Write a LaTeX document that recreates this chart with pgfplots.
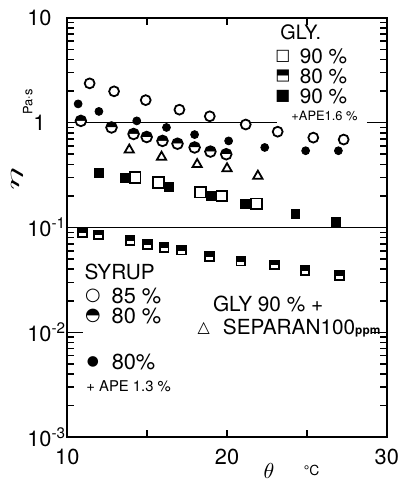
\documentclass[border=0pt]{standalone}
\usepackage{pgfplots}
\pgfplotsset{compat=1.18}
\usetikzlibrary{plotmarks}
\usepackage{fontspec}
\setmainfont{TeX Gyre Heros}
\newfontfamily\dejavu{DejaVu Sans}
\pgfdeclareplotmark{hsq}{%
  \pgfpathrectangle{\pgfqpoint{-\pgfplotmarksize}{-0.15\pgfplotmarksize}}{\pgfqpoint{2\pgfplotmarksize}{1.15\pgfplotmarksize}}%
  \pgfusepath{fill}%
  \pgfpathrectangle{\pgfqpoint{-\pgfplotmarksize}{-\pgfplotmarksize}}{\pgfqpoint{2\pgfplotmarksize}{2\pgfplotmarksize}}%
  \pgfusepath{stroke}%
}
\begin{document}
\begin{tikzpicture}
\begin{axis}[
  scale only axis, width=161.5pt, height=212pt,
  xmin=10, xmax=30, ymode=log, ymin=1e-3, ymax=10,
  axis line style={line width=1pt},
  xtick={10,15,20,25,30}, xticklabels={10,,20,,30},
  ytick={1e-3,1e-2,1e-1,1,10},
  yticklabels={10\textsuperscript{-3},10\textsuperscript{-2},10\textsuperscript{-1},\hspace{3pt}1,10},
  tick style={line width=0.8pt, black},
  major tick length=8pt, minor tick length=3.5pt,
  xtick style={/pgfplots/major tick length=3.5pt},
  ticklabel style={font=\fontsize{11}{13}\selectfont},
  yticklabel style={anchor=west, xshift=-23.7pt},
  xticklabel style={yshift=-2.3pt},
  clip=false,
]
% reference lines
\addplot[black, line width=0.8pt] coordinates {(10,0.1) (30,0.1)};
\addplot[black, line width=0.8pt] coordinates {(10,1) (23.1,1)};
\addplot[black, line width=0.8pt] coordinates {(28.76,1) (30,1)};
% SYRUP 85 %
\addplot[only marks, mark=*, mark size=2.5pt, mark options={fill=white, draw=black, line width=0.9pt}] coordinates {
(11.4,2.37)(12.93,1.99)(14.91,1.64)(17.02,1.33)(18.92,1.15)(21.17,0.96)(23.17,0.82)(25.4,0.72)(27.3,0.69)};
% SYRUP 80 %
\addplot[only marks, mark=halfcircle*, mark size=2.7pt, mark options={fill=black, draw=black, line width=0.9pt}] coordinates {
(10.85,1.04)(12.77,0.90)(14.15,0.78)(14.97,0.73)(15.96,0.67)(16.9,0.63)(17.97,0.58)(18.96,0.53)(19.95,0.50)};
% SYRUP 80 % + APE 1.3 %
\addplot[only marks, mark=*, mark size=2pt, mark options={fill=black, draw=black}] coordinates {
(10.68,1.51)(11.98,1.28)(14.35,1.04)(16.21,0.90)(17.97,0.77)(20.1,0.67)(22.36,0.58)(24.92,0.54)(26.97,0.54)};
% GLY 90 % + SEPARAN 100 ppm
\addplot[only marks, mark=triangle, mark size=2.7pt, mark options={draw=black, line width=0.9pt}] coordinates {
(13.88,0.55)(15.9,0.47)(18.13,0.40)(20.0,0.365)(21.93,0.31)};
% GLY 90 % + APE 1.6 %
\addplot[only marks, mark=square*, mark size=2.25pt, mark options={fill=black, draw=black}] coordinates {
(11.98,0.333)(13.63,0.30)(16.38,0.244)(19.0,0.20)(21.13,0.168)(24.28,0.136)(26.84,0.114)};
% GLY 90 %
\addplot[only marks, mark=square*, mark size=2.7pt, mark options={fill=white, draw=black, line width=0.9pt}] coordinates {
(14.25,0.30)(15.7,0.27)(18.34,0.217)(19.68,0.20)(21.83,0.168)};
% GLY 80 %
\addplot[only marks, mark=hsq, mark size=2.2pt, mark options={fill=black, draw=black, line width=0.9pt}] coordinates {
(10.95,0.0897)(11.94,0.0853)(13.94,0.075)(15.02,0.0687)(16.07,0.0648)(17.14,0.061)(18.9,0.0529)(20.86,0.0478)(22.98,0.0441)(24.88,0.0391)(27.05,0.0347)};
\end{axis}
% axis labels
\node[rotate=90] at (-25.5pt,130.5pt) {\fontsize{10}{12}\selectfont\scalebox{2.2}[0.95]{$\eta$}};
\node[rotate=90, font=\fontsize{6.5}{8}\selectfont] at (-20pt,169.5pt) {Pa·s};
\node at (102pt,-17pt) {\fontsize{11}{13}\selectfont$\theta$};
\node[font=\fontsize{7}{8}\selectfont] at (123.5pt,-17pt) {°C};
% GLY legend
\node[font=\fontsize{10}{12}\selectfont] at (118pt,204.5pt) {GLY.};
\node[font=\dejavu\fontsize{8}{9}\selectfont] at (109pt,192.5pt) {□};
\node[font=\dejavu\fontsize{8}{9}\selectfont] at (109pt,182.5pt) {\rotatebox{-90}{◧}};
\node[font=\dejavu\fontsize{8}{9}\selectfont] at (109pt,172.5pt) {■};
\node[font=\fontsize{10.5}{12}\selectfont] at (129.5pt,192.5pt) {90 \%};
\node[font=\fontsize{10.5}{12}\selectfont] at (129.5pt,182.5pt) {80 \%};
\node[font=\fontsize{10.5}{12}\selectfont] at (129.5pt,172.5pt) {90 \%};
\node[font=\fontsize{6.5}{7}\selectfont] at (130pt,162.5pt) {+APE1.6 \%};
% SYRUP legend
\node[font=\fontsize{10.5}{12}\selectfont] at (26.5pt,83.5pt) {SYRUP};
\node[font=\dejavu\fontsize{9}{10}\selectfont] at (13pt,71.5pt) {○};
\node[font=\dejavu\fontsize{9}{10}\selectfont] at (13pt,61.5pt) {◓};
\node[font=\dejavu\fontsize{7}{8}\selectfont] at (13pt,38pt) {●};
\node[font=\fontsize{11}{13}\selectfont] at (35pt,71.5pt) {85 \%};
\node[font=\fontsize{11}{13}\selectfont] at (35pt,61.5pt) {80 \%};
\node[font=\fontsize{11}{13}\selectfont] at (33.5pt,38pt) {80\%};
\node[font=\fontsize{7.5}{8}\selectfont] at (31pt,26pt) {+ APE 1.3 \%};
% SEPARAN legend
\node[font=\fontsize{10.5}{12}\selectfont] at (101.5pt,67.5pt) {GLY 90 \% +};
\node[font=\dejavu\fontsize{8}{9}\selectfont] at (69pt,55pt) {△};
\node[font=\fontsize{10.5}{12}\selectfont, anchor=west, inner sep=0pt] at (78.5pt,55pt) {SEPARAN100{\fontsize{6}{7}\selectfont\bfseries ppm}};
\path[use as bounding box] (-34pt,-21.5pt) rectangle (165.5pt,221pt);
\end{tikzpicture}
\end{document}
